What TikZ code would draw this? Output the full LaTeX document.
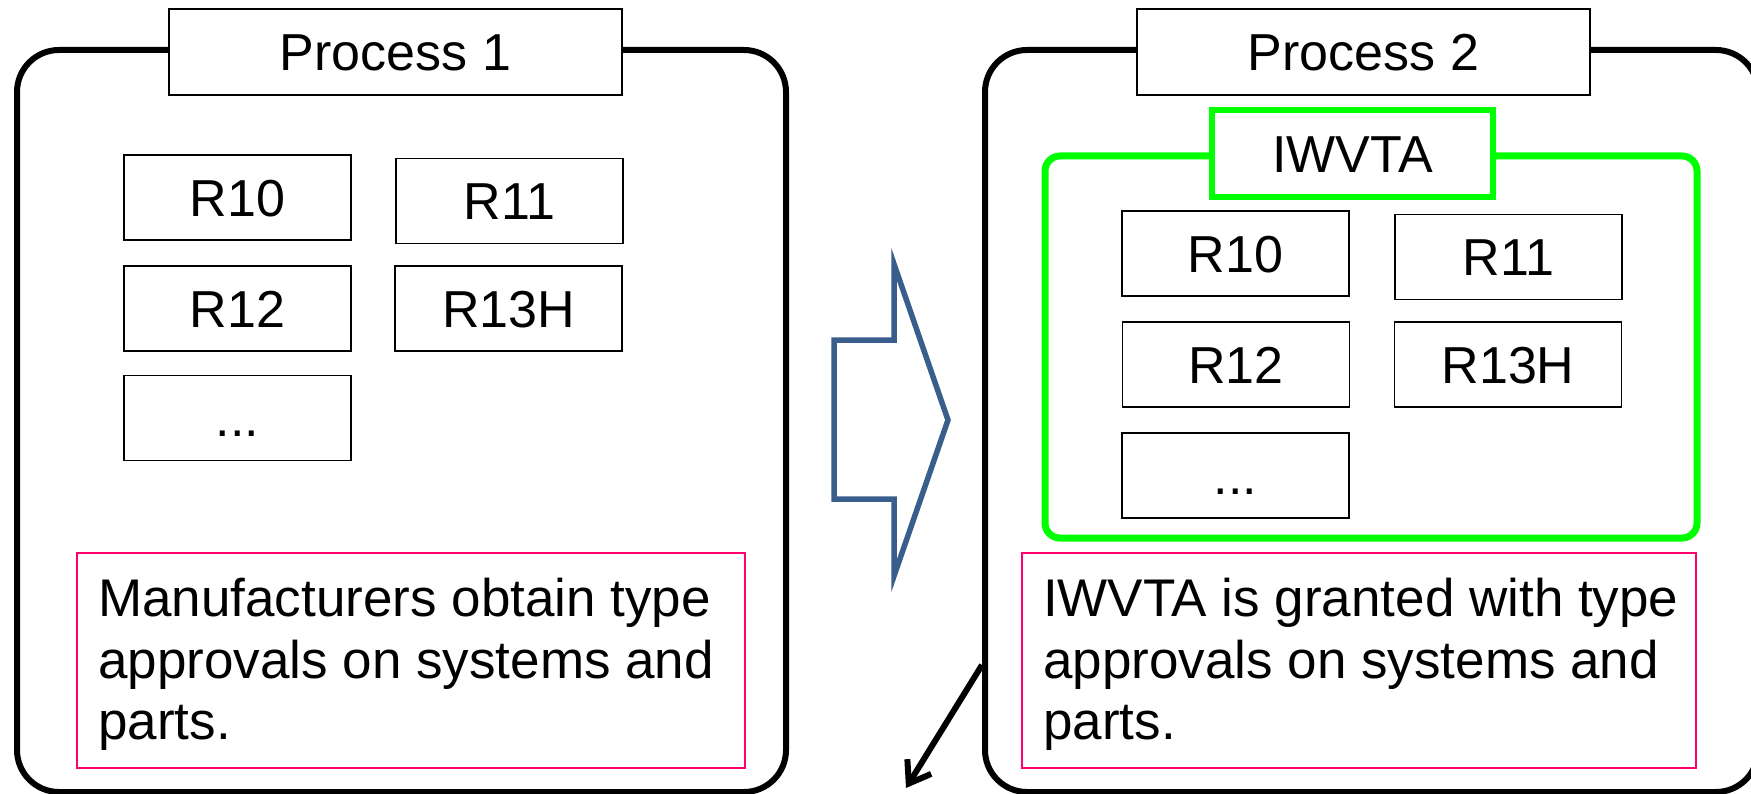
\documentclass[tikz,border=0pt]{standalone}
\usepackage{fontspec}
\setmainfont{Liberation Sans}
\usetikzlibrary{arrows.meta}
\definecolor{pinkline}{RGB}{255,0,110}
\definecolor{arrowblue}{RGB}{58,94,140}
\definecolor{brightgreen}{RGB}{0,255,0}
\newcommand{\lblfont}{\fontsize{52pt}{60pt}\selectfont}
\newcommand{\bodyfont}{\fontsize{53pt}{61.5pt}\selectfont}
\begin{document}
\begin{tikzpicture}[x=1pt,y=-1pt,
  outerbox/.style={draw, line width=6pt, rounded corners=42pt, inner sep=0pt},
  titlebox/.style={draw, fill=white, line width=2pt, inner sep=0pt,
    minimum width=453pt, minimum height=86pt, text height=37.5pt, text depth=0pt, font=\lblfont},
  rbox/.style={draw, fill=white, line width=1.8pt, inner sep=0pt,
    minimum width=227pt, minimum height=85pt, text height=37.5pt, text depth=0pt, font=\lblfont},
  greenbox/.style={draw=brightgreen, line width=7pt, rounded corners=15pt, inner sep=0pt},
  greentitle/.style={draw=brightgreen, fill=white, line width=6.5pt, inner sep=0pt,
    minimum width=281pt, minimum height=87pt, text height=37.5pt, text depth=0pt, font=\lblfont},
  notebox/.style={draw=pinkline, line width=2pt, inner sep=0pt, minimum height=215pt},
  notetext/.style={align=left, inner sep=0pt, anchor=north west, font=\bodyfont},
  bigarrow/.style={draw=arrowblue, line width=5.5pt, line join=miter},
  pointer/.style={line width=6pt, -{Straight Barb[length=20pt,width=28pt]}}
]
\useasboundingbox (0,0) rectangle (1751,794);
\clip (0,0) rectangle (1751,794);

% ---------- Process 1 ----------
\node[outerbox, minimum width=769pt, minimum height=742pt] (p1) at (401.5,421) {};
\node[titlebox] (t1) at (395.5,52) {Process 1};
\node[rbox] (a10) at (237.5,197.5) {R10};
\node[rbox] (a11) at (509.5,201) {R11};
\node[rbox] (a12) at (237.5,308.5) {R12};
\node[rbox] (a13) at (508.5,308.5) {R13H};
\node[rbox] (adots) at (237.5,418) {...};
\node[notebox, minimum width=668pt] (n1) at (411,660.5) {};
\node[notetext] (n1t) at (98,578) {Manufacturers obtain type\\approvals on systems and\\parts.};

% ---------- big arrow ----------
\draw[bigarrow] (894,264) -- (894,340) -- (834,340) -- (834,499) -- (894,499) -- (894,576) -- (948,420) -- cycle;

% ---------- Process 2 ----------
\node[outerbox, minimum width=773pt, minimum height=742pt] (p2) at (1371.5,421) {};
\node[titlebox] (t2) at (1363.5,52) {Process 2};
\node[greenbox, minimum width=652pt, minimum height=382pt] (g) at (1371,347) {};
\node[greentitle] (gt) at (1352.5,153.5) {IWVTA};
\node[rbox] (b10) at (1235.5,253.5) {R10};
\node[rbox] (b11) at (1508.5,257) {R11};
\node[rbox] (b12) at (1236,364.5) {R12};
\node[rbox] (b13) at (1508,364.5) {R13H};
\node[rbox] (bdots) at (1235.5,475.5) {...};
\node[notebox, minimum width=674pt] (n2) at (1359,660.5) {};
\node[notetext] (n2t) at (1043,578) {IWVTA is granted with type\\approvals on systems and\\parts.};

% ---------- pointer ----------
\coordinate (ps) at (p2.west |- 0,665);
\coordinate (pe) at (906,788);
\draw[pointer] (ps) -- (pe);
\end{tikzpicture}
\end{document}
